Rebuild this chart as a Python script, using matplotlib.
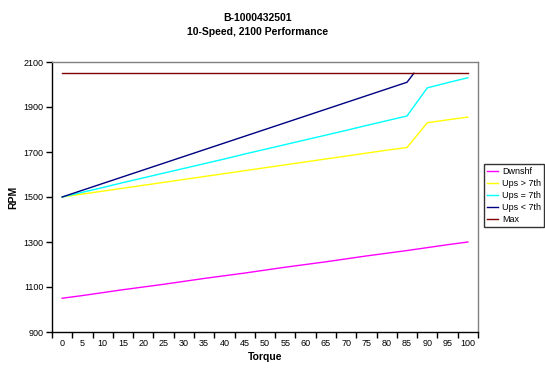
import matplotlib
matplotlib.use("Agg")
import matplotlib.pyplot as plt
import numpy as np

plt.rcParams['font.family'] = ['Liberation Sans', 'DejaVu Sans']

torque = [0, 5, 10, 15, 20, 25, 30, 35, 40, 45, 50, 55, 60, 65, 70, 75, 80, 85, 90, 95, 100]

dwnshf = [1050, 1062, 1075, 1088, 1100, 1112, 1125, 1138, 1150, 1162, 1175,
          1188, 1200, 1212, 1225, 1238, 1250, 1262, 1275, 1288, 1300]
ups_gt7 = [1500, 1513, 1526, 1539, 1552, 1565, 1578, 1591, 1604, 1617, 1630,
           1643, 1656, 1669, 1682, 1695, 1708, 1720, 1830, 1843, 1855]
ups_eq7 = [1500, 1521, 1542, 1564, 1585, 1606, 1627, 1648, 1669, 1691, 1712,
           1733, 1754, 1775, 1796, 1818, 1839, 1860, 1985, 2008, 2030]
# Ups < 7th runs into the Max line just past 85
torque_lt7 = [0, 5, 10, 15, 20, 25, 30, 35, 40, 45, 50, 55, 60, 65, 70, 75, 80, 85, 86.7]
ups_lt7 = [1500, 1530, 1560, 1590, 1620, 1650, 1680, 1710, 1740, 1770, 1800,
           1830, 1860, 1890, 1920, 1950, 1980, 2010, 2050]
max_rpm = [2050] * len(torque)

fig = plt.figure(figsize=(5.45, 3.74), dpi=100)
ax = fig.add_axes([52/545, 1 - 332/374, 426/545, 270/374])

lw = 1.0
ax.plot(torque, dwnshf, color='#FF00FF', lw=lw, label='Dwnshf')
ax.plot(torque, ups_gt7, color='#FFFF00', lw=lw, label='Ups > 7th')
ax.plot(torque, ups_eq7, color='#00FFFF', lw=lw, label='Ups = 7th')
ax.plot(torque_lt7, ups_lt7, color='#000080', lw=lw, label='Ups < 7th')
ax.plot(torque, max_rpm, color='#800000', lw=lw, label='Max', zorder=5)

ax.set_xlim(-2.5, 102.5)
ax.set_ylim(900, 2100)
ax.set_xticks(torque)
ax.set_xticklabels([str(t) for t in torque], fontsize=6.5)
ax.set_xticks(np.arange(-2.5, 103, 5), minor=True)
ax.tick_params(axis='x', which='major', length=0, pad=5)
ax.tick_params(axis='x', which='minor', length=4, width=1, color='black', direction='out')
ax.set_yticks([900, 1100, 1300, 1500, 1700, 1900, 2100])
ax.tick_params(axis='y', length=4, width=1, labelsize=6.5, pad=2)

ax.spines['left'].set_color('black')
ax.spines['bottom'].set_color('black')
ax.spines['top'].set_color('#808080')
ax.spines['right'].set_color('#808080')
for s in ax.spines.values():
    s.set_linewidth(1)

ax.set_xlabel('Torque', fontsize=7.5, fontweight='bold', labelpad=3)
ax.set_ylabel('RPM', fontsize=7.5, fontweight='bold', labelpad=4)

fig.text(258/545, 1 - 18/374, 'B-1000432501', ha='center', va='center',
         fontsize=7.5, fontweight='bold')
fig.text(258/545, 1 - 32/374, '10-Speed, 2100 Performance', ha='center', va='center',
         fontsize=7.5, fontweight='bold')

leg = fig.legend(loc='upper left', bbox_to_anchor=(484/545, 1 - 164/374),
                 fontsize=6.5, frameon=True, fancybox=False, edgecolor='black',
                 handlelength=1.3, handletextpad=0.4, borderpad=0.3,
                 labelspacing=0.35, borderaxespad=0)
leg.get_frame().set_linewidth(1)

fig.savefig('out.png', dpi=100)
